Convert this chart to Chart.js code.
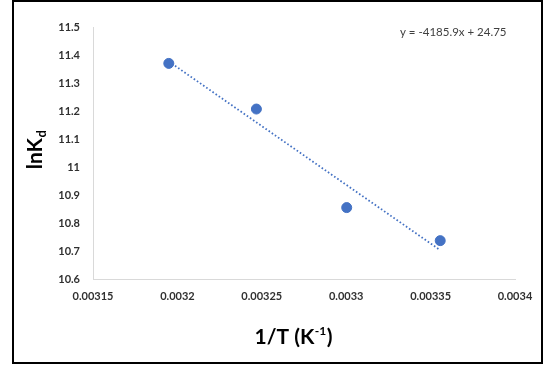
<!DOCTYPE html>
<html>
<head>
<meta charset="utf-8">
<script src="https://cdn.jsdelivr.net/npm/chart.js@4.4.1/dist/chart.umd.min.js"></script>
<style>
  html, body { margin: 0; padding: 0; background: #fff; }
  #wrap { position: relative; width: 545px; height: 365px; }
  #frame {
    position: absolute; left: 12px; top: 0; width: 531px; height: 364px;
    border: 2px solid #000; box-sizing: border-box; pointer-events: none;
  }
</style>
</head>
<body>
<div id="wrap">
  <canvas id="chart" width="545" height="365"></canvas>
  <div id="frame"></div>
</div>
<script>
// data
const invT = [0.0031949, 0.0032468, 0.0033003, 0.0033557];
const lnKd = [11.37, 11.207, 10.855, 10.737];

// trendline ends (y = -4185.9x + 24.75)
const trendX = [0.0031949, 0.0033557];
const trendY = [11.377, 10.703];

const xTicks = [0.00315, 0.0032, 0.00325, 0.0033, 0.00335, 0.0034];
const xTickLabels = ['0.00315', '0.0032', '0.00325', '0.0033', '0.00335', '0.0034'];
const yTicks = [10.6, 10.7, 10.8, 10.9, 11, 11.1, 11.2, 11.3, 11.4, 11.5];
const yTickLabels = ['10.6', '10.7', '10.8', '10.9', '11', '11.1', '11.2', '11.3', '11.4', '11.5'];

const equation = 'y = -4185.9x + 24.75';

const blue = '#4472C4';
const tickColor = '#303030';

// axis titles with sub/superscript + the trendline equation
const titlesPlugin = {
    id: 'titles',
    afterDraw(chart) {
        const c = chart.ctx;
        c.save();
        c.fillStyle = '#000';
        c.textBaseline = 'alphabetic';

        // y title: lnK_d
        c.save();
        c.translate(42, 150);
        c.rotate(-Math.PI / 2);
        c.font = 'bold 21px Lato';
        const w1 = c.measureText('lnK').width;
        c.font = 'bold 13px Lato';
        const w2 = c.measureText('d').width;
        const sx = -(w1 + w2) / 2;
        c.font = 'bold 21px Lato';
        c.textAlign = 'left';
        c.fillText('lnK', sx, 0);
        c.font = 'bold 13px Lato';
        c.fillText('d', sx + w1 + 0.5, 4);
        c.restore();

        // x title: 1/T (K^-1)
        const a = '1/T (K', sup = '-1', b = ')';
        c.font = 'bold 21px Lato';
        const wa = c.measureText(a).width;
        const wb = c.measureText(b).width;
        c.font = 'bold 12px Lato';
        const ws = c.measureText(sup).width;
        let x = 293.5 - (wa + ws + wb + 1) / 2;
        c.textAlign = 'left';
        c.font = 'bold 21px Lato';
        c.fillText(a, x, 344);
        x += wa + 0.5;
        c.font = 'bold 12px Lato';
        c.fillText(sup, x, 335);
        x += ws + 0.5;
        c.font = 'bold 21px Lato';
        c.fillText(b, x, 344);

        // equation
        c.font = '11.5px Lato';
        c.fillStyle = '#404040';
        c.textAlign = 'left';
        c.textBaseline = 'middle';
        c.fillText(equation, 400, 32.5);
        c.restore();
    }
};

new Chart(document.getElementById('chart'), {
    type: 'scatter',
    data: {
        datasets: [{
            label: 'lnKd',
            data: invT.map((v, i) => ({ x: v, y: lnKd[i] })),
            backgroundColor: blue,
            borderColor: blue,
            pointRadius: 5,
            pointHoverRadius: 5,
            order: 1
        }, {
            label: 'trend',
            type: 'line',
            data: trendX.map((v, i) => ({ x: v, y: trendY[i] })),
            borderColor: blue,
            borderWidth: 1.8,
            borderDash: [1.6, 2.2],
            pointRadius: 0,
            fill: false,
            order: 2
        }]
    },
    options: {
        responsive: false,
        animation: false,
        events: [],
        layout: { padding: { left: 0, right: 30, top: 27, bottom: 0 } },
        plugins: { legend: { display: false }, tooltip: { enabled: false } },
        scales: {
            x: {
                type: 'linear',
                min: 0.00315,
                max: 0.0034,
                afterBuildTicks: s => { s.ticks = xTicks.map(v => ({ value: v })); },
                afterFit: s => { s.height = 86; },
                grid: { display: false, drawTicks: false },
                border: { display: true, color: '#d9d9d9', width: 1 },
                ticks: {
                    padding: 11,
                    maxRotation: 0,
                    autoSkip: false,
                    color: tickColor,
                    font: { family: 'Lato', size: 11, weight: 'bold' },
                    callback: (v, i) => xTickLabels[i]
                }
            },
            y: {
                min: 10.6,
                max: 11.5,
                afterBuildTicks: s => { s.ticks = yTicks.map(v => ({ value: v })); },
                afterFit: s => { s.width = 93; },
                grid: { display: false, drawTicks: false },
                border: { display: true, color: '#d9d9d9', width: 1 },
                ticks: {
                    padding: 13,
                    autoSkip: false,
                    color: tickColor,
                    font: { family: 'Lato', size: 11, weight: 'bold' },
                    callback: (v, i) => yTickLabels[i]
                }
            }
        }
    },
    plugins: [titlesPlugin]
});
</script>
</body>
</html>
